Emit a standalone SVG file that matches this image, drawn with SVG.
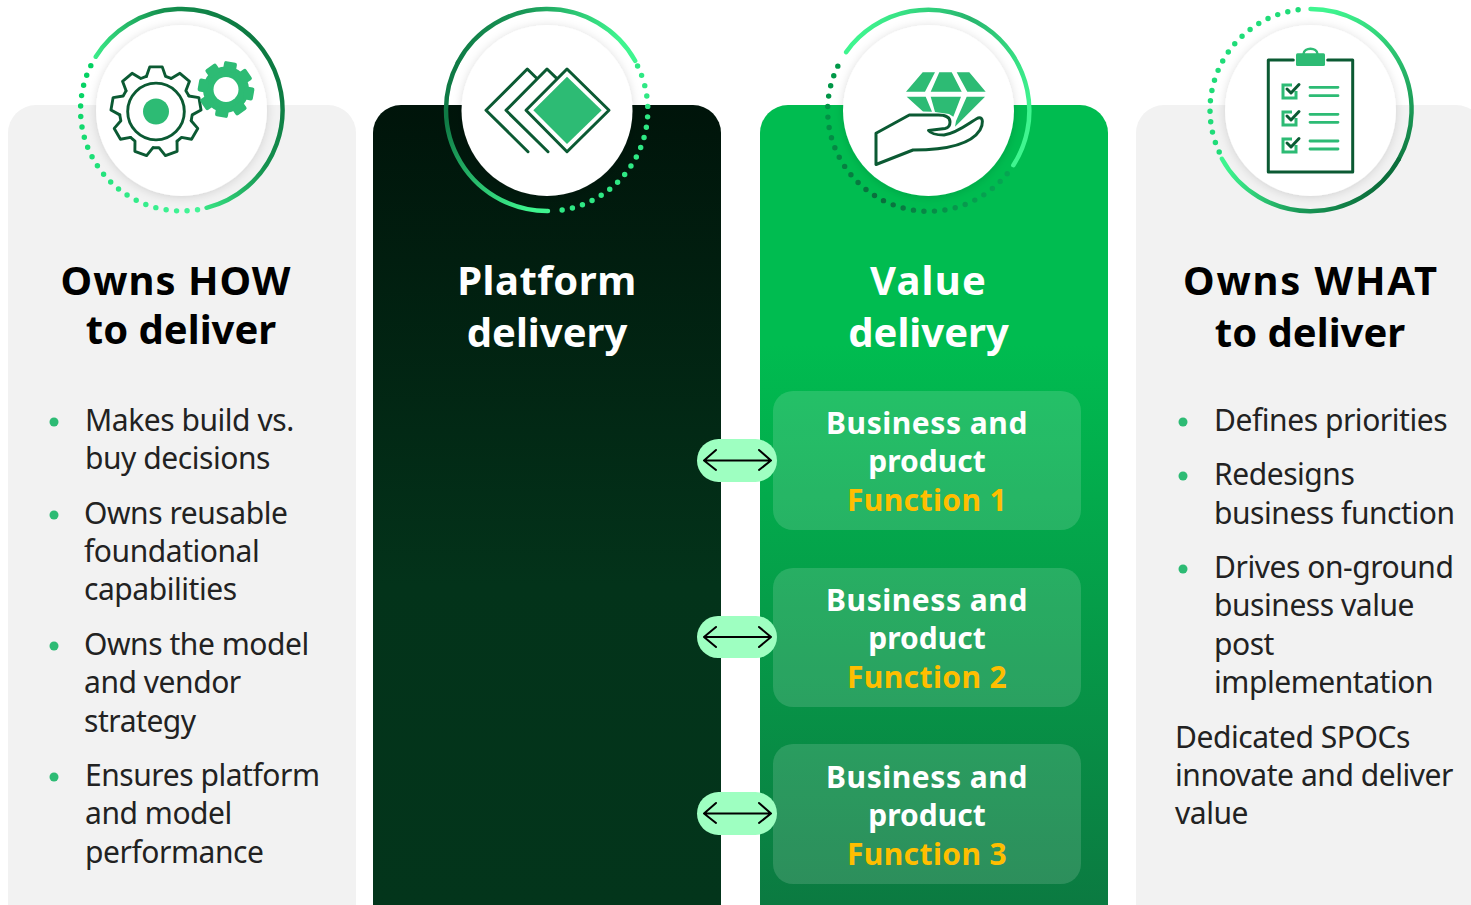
<svg xmlns="http://www.w3.org/2000/svg" xmlns:xlink="http://www.w3.org/1999/xlink" width="1471" height="905" viewBox="0 0 1471 905">
<style>
text{font-family:"Noto Sans","Open Sans","Liberation Sans",sans-serif}
.t{font-size:40px;font-weight:700;text-anchor:middle}
.w{fill:#fff}.k{fill:#000}
.b{font-size:30px;fill:#222;letter-spacing:-.45px}
.s{font-size:30px;font-weight:700;text-anchor:middle;fill:#fff;letter-spacing:.55px}
.y{fill:#ffbe00;letter-spacing:.4px}
.p{letter-spacing:0}
.ring{fill:none;stroke-width:4.5;stroke-linecap:round}
.dots{fill:none;stroke-width:5.5;stroke-linecap:round;stroke-dasharray:0 10.6}
.disc{fill:#fff;filter:url(#sh)}
.ol{fill:none;stroke:#0b5a33;stroke-width:3;stroke-linejoin:round;stroke-linecap:round}
.fi{fill:#2dbb74}
.bul{fill:#2dbb74}
.sub{fill:#fff;fill-opacity:.14}
.pill{fill:#9effc1}
.arr{fill:none;stroke:#000;stroke-width:2;stroke-linecap:round;stroke-linejoin:round}
.li{stroke:#2dbb74;stroke-width:2.8;stroke-linecap:round;fill:none}
.cb{stroke:#2dbb74;stroke-width:3;fill:none}
.ck{stroke:#0b5a33;stroke-width:3;fill:none;stroke-linecap:round;stroke-linejoin:round}
</style>
<defs>
<filter id="sh" x="-20%" y="-20%" width="140%" height="140%"><feDropShadow dx="0" dy="1" stdDeviation="5" flood-color="#000" flood-opacity=".14"/></filter>
<linearGradient id="gd2" x1="0" y1="105" x2="0" y2="905" gradientUnits="userSpaceOnUse"><stop offset="0" stop-color="#00140a"/><stop offset=".6" stop-color="#03331a"/><stop offset="1" stop-color="#03351b"/></linearGradient>
<linearGradient id="gd3" x1="0" y1="105" x2="0" y2="905" gradientUnits="userSpaceOnUse"><stop offset=".3" stop-color="#00bc50"/><stop offset="1" stop-color="#0b7a41"/></linearGradient>
<linearGradient id="r1" x1="285" y1="90" x2="120" y2="200" gradientUnits="userSpaceOnUse"><stop offset="0" stop-color="#0d7a42"/><stop offset=".3" stop-color="#15924f"/><stop offset=".75" stop-color="#3ff58f"/></linearGradient>
<linearGradient id="r2" x1="450" y1="70" x2="640" y2="100" gradientUnits="userSpaceOnUse"><stop offset="0" stop-color="#0f7a45"/><stop offset=".35" stop-color="#1a9a58"/><stop offset=".85" stop-color="#3ff58f"/></linearGradient>
<linearGradient id="r2b" x1="445" y1="120" x2="530" y2="212" gradientUnits="userSpaceOnUse"><stop offset="0" stop-color="#0f7a45"/><stop offset="1" stop-color="#3ff58f"/></linearGradient>
<linearGradient id="r3" x1="860" y1="30" x2="1030" y2="110" gradientUnits="userSpaceOnUse"><stop offset="0" stop-color="#3ff58f"/><stop offset=".5" stop-color="#27b56d"/><stop offset="1" stop-color="#3ff58f"/></linearGradient>
<linearGradient id="r4" x1="1300" y1="20" x2="1370" y2="190" gradientUnits="userSpaceOnUse"><stop offset="0" stop-color="#3ff58f"/><stop offset="1" stop-color="#0b6e3b"/></linearGradient>
<linearGradient id="r4b" x1="1225" y1="165" x2="1380" y2="190" gradientUnits="userSpaceOnUse"><stop offset="0" stop-color="#3ff58f"/><stop offset=".5" stop-color="#1a9a58"/><stop offset="1" stop-color="#0b6e3b"/></linearGradient>
<linearGradient id="d1" x1="85" y1="60" x2="205" y2="210" gradientUnits="userSpaceOnUse"><stop offset="0" stop-color="#00cf5f"/><stop offset="1" stop-color="#45f598"/></linearGradient>
<linearGradient id="d3" x1="835" y1="60" x2="1010" y2="170" gradientUnits="userSpaceOnUse"><stop offset="0" stop-color="#009a48"/><stop offset=".55" stop-color="#0a6d3c"/><stop offset="1" stop-color="#06a552"/></linearGradient>
<path id="tooth" d="M-10-36.5L-6.5-46.5H6.5L10-36.5L15.7-34.5"/>
<rect id="cog" x="-6.5" y="-28" width="13" height="10" rx="2"/>
</defs>

<g id="card-how">
<rect x="8" y="105" width="348" height="830" rx="28" fill="#f2f2f2"/>
<g transform="translate(181.500 110) scale(.99) translate(-181.500 -110)">
<path class="ring" stroke="url(#r1)" d="M94.900 56.200A102 102 0 1 1 206.800 208.800"/>
<path class="dots" stroke="url(#d1)" d="M89.900 65.200A102 102 0 0 0 201.100 210.100"/>
</g>
<circle class="disc" cx="181.500" cy="110.500" r="85.500"/>
<g class="ol" transform="translate(156 111.500) scale(.96)">
<use xlink:href="#tooth"/><use xlink:href="#tooth" transform="rotate(40)"/><use xlink:href="#tooth" transform="rotate(80)"/><use xlink:href="#tooth" transform="rotate(120)"/><use xlink:href="#tooth" transform="rotate(160)"/><use xlink:href="#tooth" transform="rotate(200)"/><use xlink:href="#tooth" transform="rotate(240)"/><use xlink:href="#tooth" transform="rotate(280)"/><use xlink:href="#tooth" transform="rotate(320)"/>
<circle r="29.500"/>
</g>
<circle class="fi" cx="156" cy="111.500" r="13"/>
<g class="fi" transform="translate(226 89.500) rotate(10)">
<circle r="23"/>
<use xlink:href="#cog"/><use xlink:href="#cog" transform="rotate(45)"/><use xlink:href="#cog" transform="rotate(90)"/><use xlink:href="#cog" transform="rotate(135)"/><use xlink:href="#cog" transform="rotate(180)"/><use xlink:href="#cog" transform="rotate(225)"/><use xlink:href="#cog" transform="rotate(270)"/><use xlink:href="#cog" transform="rotate(315)"/>
</g>
<circle cx="226" cy="89.500" r="12.500" fill="#fff"/>
<text class="t k" x="176" y="295" style="letter-spacing:1px">Owns HOW</text>
<text class="t k" x="181" y="344">to deliver</text>
<circle class="bul" cx="54" cy="422" r="4.500"/><circle class="bul" cx="54" cy="515" r="4.500"/><circle class="bul" cx="54" cy="646" r="4.500"/><circle class="bul" cx="54" cy="777" r="4.500"/>
<text class="b" x="85" y="431">Makes build vs.</text>
<text class="b" x="85" y="469">buy decisions</text>
<text class="b" x="84" y="524">Owns reusable</text>
<text class="b" x="84" y="562">foundational</text>
<text class="b" x="84" y="600">capabilities</text>
<text class="b" x="84" y="655">Owns the model</text>
<text class="b" x="84" y="693">and vendor</text>
<text class="b" x="84" y="732">strategy</text>
<text class="b" x="85" y="786">Ensures platform</text>
<text class="b" x="85" y="824">and model</text>
<text class="b" x="85" y="863">performance</text>
</g>

<g id="card-platform">
<rect x="373" y="105" width="348" height="830" rx="28" fill="url(#gd2)"/>
<g transform="translate(547 110) scale(.99) translate(-547 -110)">
<path class="ring" stroke="url(#r2)" d="M636.100 60.400A102 102 0 0 0 457 62"/>
<path class="ring" stroke="url(#r2b)" d="M457 62A102 102 0 0 0 548 212"/>
<path class="dots" stroke="#2fe884" d="M638.500 65.500A102 102 0 0 1 559 211.500"/>
</g>
<circle class="disc" cx="547" cy="110.500" r="85.500"/>
<path class="ol" d="M567 69L609 110.300L567 151.700L526 110.300Z"/>
<path class="fi" d="M567 76.700L601.700 110.300L567 144L533.300 110.300Z"/>
<path class="ol" d="M556.700 78.300L547 69L506 110.300L548 151.700"/>
<path class="ol" d="M536.700 78.300L527.300 69L486 110.300L528 151.700"/>
<text class="t w" x="547" y="295" style="letter-spacing:.5px">Platform</text>
<text class="t w" x="547" y="347">delivery</text>
</g>

<g id="card-value">
<rect x="760" y="105" width="348" height="830" rx="28" fill="url(#gd3)"/>
<g transform="translate(928.500 110.500) scale(.99) translate(-928.500 -110.500)">
<path class="ring" stroke="url(#r3)" d="M845.300 51.500A102 102 0 0 1 1014.200 165.800"/>
<path class="dots" stroke="url(#d3)" d="M836.900 65.700A102 102 0 0 0 1010.900 170.600"/>
</g>
<circle class="disc" cx="928.500" cy="110.500" r="85.500"/>
<path class="fi" d="M922.700 72.300H935L925 91.700H906ZM939.300 72.300H951.700L961.700 91.700H930.700ZM956.700 72.300H969.300L985.700 91.700H967.300ZM906.700 96.700H925.700L932 111.700L923 111.500ZM930.700 96.700H961L953.300 116.700L949 114L935 112ZM966.700 96.700H985L955 126.700L956 121Z"/>
<path class="ol" d="M876 133.300L909.300 115H938.300C947 115 950 118 950 122C950 126 948 128 945 128.500L928.500 130.500C931 134 938 135 944 135C958 133 970 122 978 118C984 116 983 125 980 130C970 146 942 150 913 150L876 164.500Z"/>
<text class="t w" x="928.500" y="295" style="letter-spacing:1.200px">Value</text>
<text class="t w" x="928.500" y="347">delivery</text>
<g id="function-1"><rect class="sub" x="773" y="391" width="308" height="139" rx="20"/>
<text class="s" x="927" y="434">Business and</text><text class="s p" x="927" y="472">product</text><text class="s y" x="927" y="511">Function 1</text></g>
<g id="function-2"><rect class="sub" x="773" y="568" width="308" height="139" rx="20"/>
<text class="s" x="927" y="611">Business and</text><text class="s p" x="927" y="649">product</text><text class="s y" x="927" y="688">Function 2</text></g>
<g id="function-3"><rect class="sub" x="773" y="744" width="308" height="140" rx="20"/>
<text class="s" x="927" y="788">Business and</text><text class="s p" x="927" y="826">product</text><text class="s y" x="927" y="865">Function 3</text></g>
</g>

<g id="card-what">
<rect x="1136" y="105" width="348" height="830" rx="28" fill="#f2f2f2"/>
<g transform="translate(1310.500 110) scale(.99) translate(-1310.500 -110)">
<path class="ring" stroke="url(#r4)" d="M1310.500 8A102 102 0 0 1 1399.500 160"/>
<path class="ring" stroke="url(#r4b)" d="M1399.500 160A102 102 0 0 1 1221 159.200"/>
<path class="dots" stroke="#1fdc78" d="M1298 8.800A102 102 0 0 0 1219 154"/>
</g>
<circle class="disc" cx="1310.500" cy="110.500" r="85.500"/>
<path class="ol" d="M1293.300 60H1268.300V172H1352.700V60H1327.700"/>
<rect class="fi" x="1296" y="53.300" width="29" height="12.700" rx="1.500"/>
<path d="M1303.500 54C1304 47 1317 47 1317.500 54" fill="none" stroke="#2dbb74" stroke-width="2.500"/>
<path class="cb" d="M1296 91V98H1283V85H1292"/><path class="cb" d="M1296 118V125H1283V112H1292"/><path class="cb" d="M1296 145V152H1283V139H1292"/>
<path class="ck" d="M1287 89L1291 93L1299 84.500"/><path class="ck" d="M1287 116L1291 120L1299 111.500"/><path class="ck" d="M1287 143L1291 147L1299 138.500"/>
<path class="li" d="M1310 87.300H1338M1310 95.700H1338M1310 114.300H1338M1310 122.300H1338M1310 141H1338M1310 149H1338"/>
<text class="t k" x="1311" y="295" style="letter-spacing:1.800px">Owns WHAT</text>
<text class="t k" x="1310" y="347">to deliver</text>
<circle class="bul" cx="1183" cy="422" r="4.500"/><circle class="bul" cx="1183" cy="476" r="4.500"/><circle class="bul" cx="1183" cy="569" r="4.500"/>
<text class="b" x="1214" y="431">Defines priorities</text>
<text class="b" x="1214" y="485">Redesigns</text>
<text class="b" x="1214" y="524">business function</text>
<text class="b" x="1214" y="578">Drives on-ground</text>
<text class="b" x="1214" y="616">business value</text>
<text class="b" x="1214" y="655">post</text>
<text class="b" x="1214" y="693">implementation</text>
<text class="b" x="1175" y="748">Dedicated SPOCs</text>
<text class="b" x="1175" y="786">innovate and deliver</text>
<text class="b" x="1175" y="824">value</text>
</g>

<g id="connectors">
<rect class="pill" x="697" y="439" width="80" height="43" rx="21.500"/>
<path class="arr" d="M704 460.500H771M716 450L704 460.500L716 470M759 450L771 460.500L759 470"/>
<rect class="pill" x="697" y="616" width="80" height="42" rx="21"/>
<path class="arr" d="M704 637H771M716 627L704 637L716 647M759 627L771 637L759 647"/>
<rect class="pill" x="697" y="792" width="80" height="43" rx="21.500"/>
<path class="arr" d="M704 813.500H771M716 803L704 813.500L716 823M759 803L771 813.500L759 823"/>
</g>
</svg>
